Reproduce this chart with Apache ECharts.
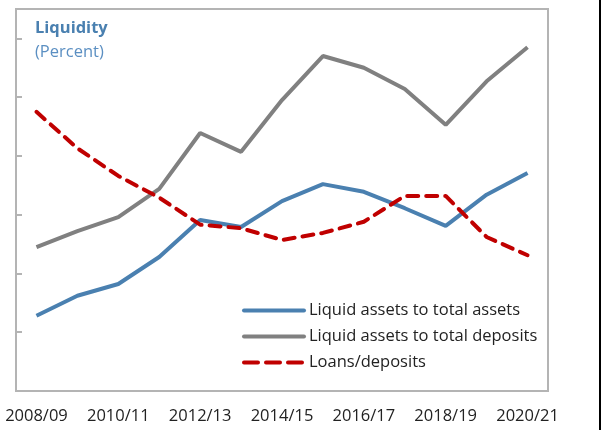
<!DOCTYPE html>
<html>
<head>
<meta charset="utf-8">
<script src="https://cdn.jsdelivr.net/npm/echarts@6/dist/echarts.min.js"></script>
<style>
  html, body { margin: 0; padding: 0; background: #fff; }
  #chart { width: 605px; height: 430px; }
</style>
</head>
<body>
<div id="chart"></div>
<script>
// Fiscal years on the x axis
var years = ['2008/09', '2009/10', '2010/11', '2011/12', '2012/13', '2013/14', '2014/15',
	'2015/16', '2016/17', '2017/18', '2018/19', '2019/20', '2020/21'];

// Values (percent)
var liquidToAssets = [12.8, 16.2, 18.2, 22.8, 29.1, 27.9, 32.3, 35.2, 33.9, 31.1, 28.1, 33.4, 37.1];
var liquidToDeposits = [24.5, 27.2, 29.6, 34.4, 43.9, 40.7, 49.5, 57.0, 55.0, 51.4, 45.3, 52.7, 58.5];
var loansToDeposits = [47.5, 41.3, 36.6, 32.9, 28.3, 27.7, 25.7, 26.9, 28.8, 33.2, 33.2, 26.2, 23.1];

var font = 'Open Sans';
var fontSize = 16.5;
var frame = '#b4b4b4';

var chart = echarts.init(document.getElementById('chart'));

chart.setOption({
	animation: false,
	textStyle: { fontFamily: font },
	title: [
		{ text: 'Liquidity', left: 30, top: 15,
			textStyle: { fontSize: fontSize, fontWeight: 'bold', color: '#4a80b0', fontFamily: font } },
		{ text: '(Percent)', left: 30, top: 39,
			textStyle: { fontSize: fontSize, fontWeight: 'normal', color: '#5b8fc2', fontFamily: font } }
	],
	grid: {
		left: 16, right: 57, top: 9, bottom: 39,
		show: true, borderColor: frame, borderWidth: 2
	},
	legend: {
		orient: 'vertical',
		left: 237, top: 297,
		itemWidth: 60, itemHeight: 14, itemGap: 9, itemTextGap: 5,
		itemStyle: { opacity: 0 },
		lineStyle: { width: 4, cap: 'round' },
		textStyle: { fontSize: fontSize, color: '#222', fontFamily: font },
		data: [
			'Liquid assets to total assets',
			'Liquid assets to total deposits',
			{ name: 'Loans/deposits', lineStyle: { type: [14, 8] } }
		]
	},
	xAxis: {
		type: 'category',
		data: years,
		boundaryGap: true,
		axisLine: { lineStyle: { color: frame, width: 2 } },
		axisTick: { inside: true, interval: 0, length: 6, lineStyle: { color: frame, width: 2 } },
		axisLabel: { interval: 1, color: '#222', fontSize: fontSize, margin: 17 }
	},
	yAxis: {
		type: 'value',
		min: 0, max: 65, interval: 10,
		axisLine: { show: true, lineStyle: { color: frame, width: 2 } },
		axisTick: { show: true, inside: true, length: 6, lineStyle: { color: frame, width: 2 } },
		axisLabel: { show: false },
		splitLine: { show: false }
	},
	series: [
		{ name: 'Liquid assets to total assets', type: 'line', data: liquidToAssets,
			symbol: 'none', color: '#4a80b0',
			lineStyle: { width: 4, color: '#4a80b0' } },
		{ name: 'Liquid assets to total deposits', type: 'line', data: liquidToDeposits,
			symbol: 'none', color: '#808080',
			lineStyle: { width: 4, color: '#808080' } },
		{ name: 'Loans/deposits', type: 'line', data: loansToDeposits,
			symbol: 'none', color: '#c00000',
			lineStyle: { width: 4, color: '#c00000', type: [11, 8], cap: 'round' } }
	],
	graphic: [
		{ type: 'rect', shape: { x: 599, y: 0, width: 2, height: 430 },
			style: { fill: '#000' }, silent: true }
	]
});
</script>
</body>
</html>
